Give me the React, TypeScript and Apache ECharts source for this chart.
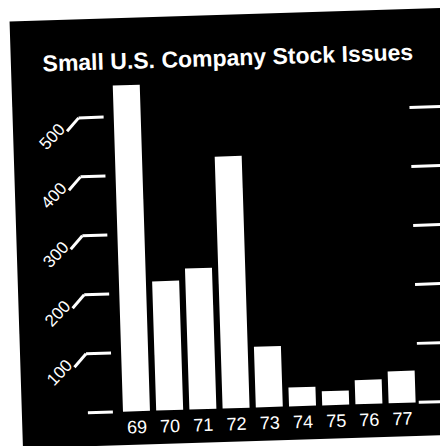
import React, { useEffect, useRef } from "react";
import * as echarts from "echarts";

const years = ["69", "70", "71", "72", "73", "74", "75", "76", "77"];
const issues = [553, 219, 239, 427, 103, 32, 24, 41, 54];
const tickValues = [0, 100, 200, 300, 400, 500];
const chartTitle = "Small U.S. Company Stock Issues";

const FONT = "'Liberation Sans', Arial, Helvetica, sans-serif";

export default function App() {
  const ref = useRef<HTMLDivElement>(null);
  useEffect(() => {
    const chart = echarts.init(ref.current as HTMLDivElement, null, { renderer: "svg" });
    chart.setOption({
      animation: false,
      graphic: [
        {
          type: "rect",
          z: -10,
          shape: { x: 16, y: 15, width: 460, height: 427 },
          style: { fill: "#000" },
        },
        {
          type: "text",
          x: 233,
          y: 58,
          style: {
            text: chartTitle,
            fill: "#fff",
            font: `bold 23px ${FONT}`,
            textAlign: "center",
            textVerticalAlign: "middle",
          },
        },
      ],
      grid: { left: 114, right: 47, top: 54.5, bottom: 37.5 },
      xAxis: {
        type: "category",
        data: years,
        axisLine: { show: false },
        axisTick: { show: false },
        axisLabel: { color: "#fff", fontSize: 18, margin: 7, fontFamily: FONT },
      },
      yAxis: {
        type: "value",
        min: 0,
        max: 600,
        interval: 100,
        axisLine: { show: false },
        axisTick: { show: false },
        axisLabel: { show: false },
        splitLine: { show: false },
      },
      series: [
        {
          type: "bar",
          data: issues,
          barWidth: 27,
          itemStyle: { color: "#fff" },
        },
        {
          type: "custom",
          clip: false,
          data: tickValues.map((v) => [0, v]),
          renderItem: (params: any, api: any) => {
            const v = api.value(1);
            const y = api.coord([0, v])[1];
            const lineStyle = { stroke: "#fff", lineWidth: 3, fill: null };
            const children: any[] = [
              { type: "line", shape: { x1: 82, y1: y, x2: 107, y2: y }, style: lineStyle },
              { type: "line", shape: { x1: 413, y1: y, x2: 460, y2: y }, style: lineStyle },
            ];
            if (v > 0) {
              children.push({
                type: "line",
                shape: { x1: 70, y1: y + 13, x2: 82, y2: y },
                style: lineStyle,
              });
              children.push({
                type: "text",
                x: 55,
                y: y + 18,
                rotation: Math.PI / 4,
                style: {
                  text: String(v),
                  fill: "#fff",
                  font: `17px ${FONT}`,
                  textAlign: "center",
                  textVerticalAlign: "middle",
                },
              });
            }
            return { type: "group", children };
          },
        },
      ],
    });
    return () => chart.dispose();
  }, []);

  return (
    <div
      style={{
        position: "absolute",
        left: 0,
        top: 0,
        width: 440,
        height: 446,
        overflow: "hidden",
        background: "#fff",
      }}
    >
      <div
        ref={ref}
        style={{
          width: 460,
          height: 446,
          transform: "rotate(-1.8deg)",
          transformOrigin: "220px 223px",
        }}
      />
    </div>
  );
}
